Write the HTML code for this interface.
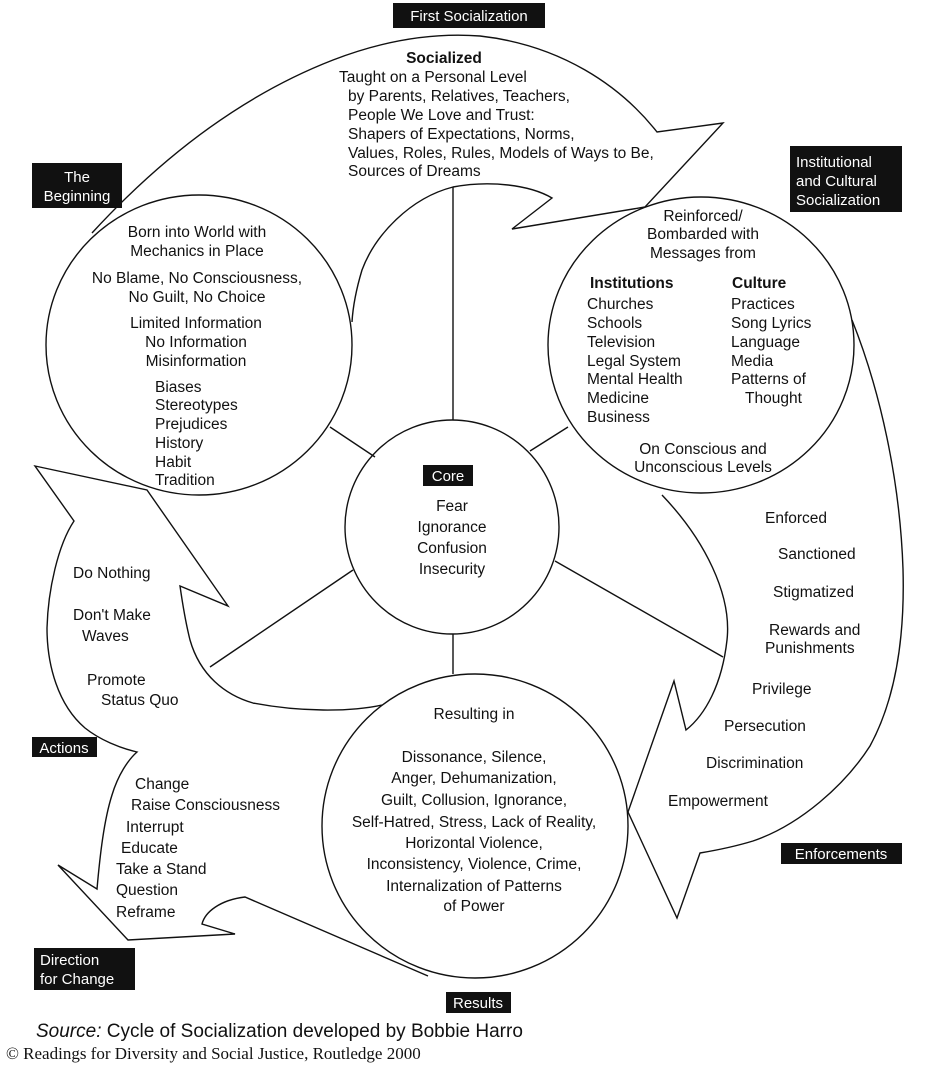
<!DOCTYPE html>
<html><head><meta charset="utf-8"><style>
html,body{margin:0;padding:0;background:#fff;}
svg{display:block;}
text{font-family:"Liberation Sans",sans-serif;font-size:15.5px;fill:#111;}
.c{text-anchor:middle;}
.b{font-weight:bold;}
.lb{fill:#fff;font-size:15px;}
</style></head><body>
<svg width="939" height="1068" viewBox="0 0 939 1068" xmlns="http://www.w3.org/2000/svg">
<g fill="none" stroke="#111" stroke-width="1.4" stroke-linejoin="miter">
<!-- First socialization arrow -->
<path d="M92,233 C150,170 230,100 333,60 C390,38 440,33 480,36 C560,45 620,85 657,132 L723,123 L645,207 L512,229 L552,198 C530,185 490,180 453,187 C410,198 375,235 362,270 C356,290 353,305 352,322"/>
<!-- Enforcement arrow -->
<path d="M852,320 C880,390 900,480 903,569 C905,640 895,700 870,746 C845,785 800,825 753,841 C730,848 712,851 700,853 L677,918 L628,812 L674,681 L686,730 C705,715 722,685 727,640 C732,595 705,540 662,495"/>
<!-- Actions arrow -->
<path d="M382,705 C350,712 300,712 253,703 C225,695 200,675 190,640 C185,620 182,600 180,586 L228,606 L147,490 L35,466 L74,521 C58,545 48,590 47,628 C47,665 58,705 85,728 C100,740 120,748 137,752 C128,760 118,775 112,795 C104,820 100,855 97,889 L58,865 L128,940 L235,934 L202,924 C205,912 220,900 245,897 L428,976"/>
<!-- circles -->
<ellipse cx="199" cy="345" rx="153" ry="150"/>
<ellipse cx="701" cy="345" rx="153" ry="148"/>
<ellipse cx="452" cy="527" rx="107" ry="107"/>
<ellipse cx="475" cy="826" rx="153" ry="152"/>
<!-- spokes -->
<line x1="453" y1="187" x2="453" y2="420"/>
<line x1="330" y1="427" x2="375" y2="457"/>
<line x1="568" y1="427" x2="530" y2="451"/>
<line x1="210" y1="667" x2="353" y2="570"/>
<line x1="555" y1="561" x2="723" y2="657"/>
<line x1="453" y1="634" x2="453" y2="674"/>
</g>
<!-- label boxes -->
<g fill="#111">
<rect x="393" y="3" width="152" height="25"/>
<rect x="32" y="163" width="90" height="45"/>
<rect x="790" y="146" width="112" height="66"/>
<rect x="423" y="465" width="50" height="21"/>
<rect x="32" y="737" width="65" height="20"/>
<rect x="34" y="948" width="101" height="42"/>
<rect x="446" y="992" width="65" height="21"/>
<rect x="781" y="843" width="121" height="21"/>
</g>
<text class="lb c" x="469" y="21">First Socialization</text>
<text class="lb c" x="77" y="182">The</text>
<text class="lb c" x="77" y="201">Beginning</text>
<text class="lb" x="796" y="167">Institutional</text>
<text class="lb" x="796" y="186">and Cultural</text>
<text class="lb" x="796" y="205">Socialization</text>
<text class="lb c" x="448" y="481">Core</text>
<text class="lb c" x="64" y="753">Actions</text>
<text class="lb" x="40" y="965">Direction</text>
<text class="lb" x="40" y="984">for Change</text>
<text class="lb c" x="478" y="1008">Results</text>
<text class="lb c" x="841" y="859">Enforcements</text>

<!-- socialized text -->
<text class="b c" x="444" y="63">Socialized</text>
<text x="339" y="82">Taught on a Personal Level</text>
<text x="348" y="101">by Parents, Relatives, Teachers,</text>
<text x="348" y="120">People We Love and Trust:</text>
<text x="348" y="139">Shapers of Expectations, Norms,</text>
<text x="348" y="158">Values, Roles, Rules, Models of Ways to Be,</text>
<text x="348" y="176">Sources of Dreams</text>

<!-- beginning -->
<g class="c">
<text class="c" x="197" y="237">Born into World with</text>
<text class="c" x="197" y="256">Mechanics in Place</text>
<text class="c" x="197" y="283">No Blame, No Consciousness,</text>
<text class="c" x="197" y="302">No Guilt, No Choice</text>
<text class="c" x="196" y="328">Limited Information</text>
<text class="c" x="196" y="347">No Information</text>
<text class="c" x="196" y="366">Misinformation</text>
</g>
<text x="155" y="392">Biases</text>
<text x="155" y="410">Stereotypes</text>
<text x="155" y="429">Prejudices</text>
<text x="155" y="448">History</text>
<text x="155" y="467">Habit</text>
<text x="155" y="485">Tradition</text>

<!-- institutional -->
<text class="c" x="703" y="221">Reinforced/</text>
<text class="c" x="703" y="239">Bombarded with</text>
<text class="c" x="703" y="258">Messages from</text>
<text class="b" x="590" y="288">Institutions</text>
<text class="b" x="732" y="288">Culture</text>
<text x="587" y="309">Churches</text>
<text x="587" y="328">Schools</text>
<text x="587" y="347">Television</text>
<text x="587" y="366">Legal System</text>
<text x="587" y="384">Mental Health</text>
<text x="587" y="403">Medicine</text>
<text x="587" y="422">Business</text>
<text x="731" y="309">Practices</text>
<text x="731" y="328">Song Lyrics</text>
<text x="731" y="347">Language</text>
<text x="731" y="366">Media</text>
<text x="731" y="384">Patterns of</text>
<text x="745" y="403">Thought</text>
<text class="c" x="703" y="454">On Conscious and</text>
<text class="c" x="703" y="472">Unconscious Levels</text>

<!-- core -->
<text class="c" x="452" y="511">Fear</text>
<text class="c" x="452" y="532">Ignorance</text>
<text class="c" x="452" y="553">Confusion</text>
<text class="c" x="452" y="574">Insecurity</text>

<!-- actions -->
<text x="73" y="578">Do Nothing</text>
<text x="73" y="620">Don't Make</text>
<text x="82" y="641">Waves</text>
<text x="87" y="685">Promote</text>
<text x="101" y="705">Status Quo</text>
<text x="135" y="789">Change</text>
<text x="131" y="810">Raise Consciousness</text>
<text x="126" y="832">Interrupt</text>
<text x="121" y="853">Educate</text>
<text x="116" y="874">Take a Stand</text>
<text x="116" y="895">Question</text>
<text x="116" y="917">Reframe</text>

<!-- results -->
<text class="c" x="474" y="719">Resulting in</text>
<text class="c" x="474" y="762">Dissonance, Silence,</text>
<text class="c" x="474" y="783">Anger, Dehumanization,</text>
<text class="c" x="474" y="805">Guilt, Collusion, Ignorance,</text>
<text class="c" x="474" y="827">Self-Hatred, Stress, Lack of Reality,</text>
<text class="c" x="474" y="848">Horizontal Violence,</text>
<text class="c" x="474" y="869">Inconsistency, Violence, Crime,</text>
<text class="c" x="474" y="891">Internalization of Patterns</text>
<text class="c" x="474" y="911">of Power</text>

<!-- enforcement -->
<text x="765" y="523">Enforced</text>
<text x="778" y="559">Sanctioned</text>
<text x="773" y="597">Stigmatized</text>
<text x="769" y="635">Rewards and</text>
<text x="765" y="653">Punishments</text>
<text x="752" y="694">Privilege</text>
<text x="724" y="731">Persecution</text>
<text x="706" y="768">Discrimination</text>
<text x="668" y="806">Empowerment</text>

<!-- footer -->
<text x="36" y="1037" style="font-size:19px"><tspan font-style="italic">Source:</tspan> Cycle of Socialization developed by Bobbie Harro</text>
<text x="6" y="1059" style="font-family:'Liberation Serif',serif;font-size:17px">© Readings for Diversity and Social Justice, Routledge 2000</text>
</svg>
</body></html>
